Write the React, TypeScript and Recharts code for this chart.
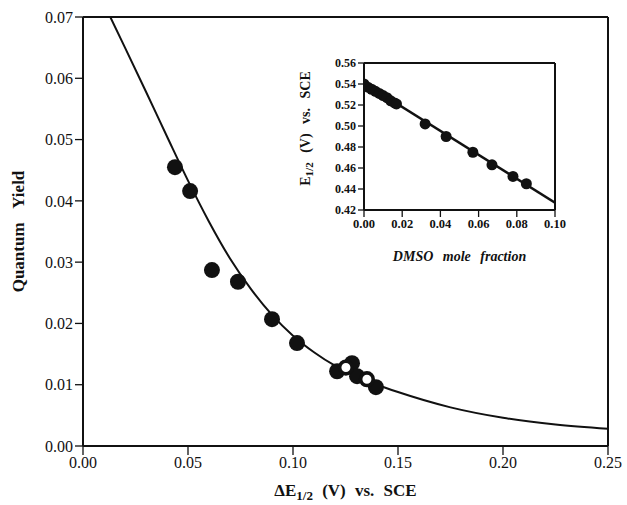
import {
  ComposedChart,
  Line,
  Scatter,
  XAxis,
  YAxis,
  ReferenceLine,
  Label,
} from "recharts";

// main panel: quantum yield vs delta E1/2
const mainFilled = [
  { x: 0.0438, y: 0.0455 },
  { x: 0.051, y: 0.0416 },
  { x: 0.0614, y: 0.0287 },
  { x: 0.0738, y: 0.0268 },
  { x: 0.09, y: 0.0207 },
  { x: 0.1019, y: 0.0168 },
  { x: 0.121, y: 0.0122 },
  { x: 0.1281, y: 0.0135 },
  { x: 0.1305, y: 0.0114 },
  { x: 0.1395, y: 0.0096 },
];
const mainOpen = [
  { x: 0.1252, y: 0.0128 },
  { x: 0.1352, y: 0.0109 },
];
const fitCurve = [
  { x: 0.013, y: 0.07 },
  { x: 0.02, y: 0.065 },
  { x: 0.03, y: 0.0578 },
  { x: 0.04, y: 0.0505 },
  { x: 0.05, y: 0.0433 },
  { x: 0.06, y: 0.0366 },
  { x: 0.07, y: 0.0306 },
  { x: 0.08, y: 0.0256 },
  { x: 0.09, y: 0.0214 },
  { x: 0.1, y: 0.018 },
  { x: 0.11, y: 0.0153 },
  { x: 0.12, y: 0.0131 },
  { x: 0.13, y: 0.0114 },
  { x: 0.14, y: 0.01 },
  { x: 0.15, y: 0.0088 },
  { x: 0.175, y: 0.0063 },
  { x: 0.2, y: 0.0046 },
  { x: 0.225, y: 0.0035 },
  { x: 0.25, y: 0.0028 },
];
const mainXTicks = [0, 0.05, 0.1, 0.15, 0.2, 0.25];
const mainYTicks = [0, 0.01, 0.02, 0.03, 0.04, 0.05, 0.06, 0.07];

// inset: E1/2 vs DMSO mole fraction
const insetPoints = [
  { x: 0, y: 0.54 },
  { x: 0.002, y: 0.537 },
  { x: 0.004, y: 0.535 },
  { x: 0.006, y: 0.533 },
  { x: 0.008, y: 0.531 },
  { x: 0.01, y: 0.529 },
  { x: 0.012, y: 0.527 },
  { x: 0.014, y: 0.524 },
  { x: 0.016, y: 0.522 },
  { x: 0.017, y: 0.521 },
  { x: 0.032, y: 0.502 },
  { x: 0.043, y: 0.49 },
  { x: 0.057, y: 0.475 },
  { x: 0.067, y: 0.463 },
  { x: 0.078, y: 0.452 },
  { x: 0.085, y: 0.445 },
];
const insetFit = [
  { x: 0, y: 0.541 },
  { x: 0.1, y: 0.427 },
];
const insetXTicks = [0, 0.02, 0.04, 0.06, 0.08, 0.1];
const insetYTicks = [0.42, 0.44, 0.46, 0.48, 0.5, 0.52, 0.54, 0.56];

const serif = "Liberation Serif, Times New Roman, serif";
const ink = "#111";

const dot = (r: number) => (p: any) =>
  <circle cx={p.cx} cy={p.cy} r={r} fill={ink} />;
const ring = (p: any) => (
  <circle cx={p.cx} cy={p.cy} r={6.3} fill="#fff" stroke={ink} strokeWidth={3.6} />
);

const MainXTitle = (props: any) => {
  const vb = props.viewBox;
  return (
    <text x={vb.x + vb.width / 2} y={vb.y + 50} textAnchor="middle" fontFamily={serif}
      fontWeight="bold" fontSize={17} fill={ink} wordSpacing={5}>
      ΔE<tspan dy={4} fontSize={13}>1/2</tspan>
      <tspan dy={-4}> (V) vs. SCE</tspan>
    </text>
  );
};

const MainYTitle = (props: any) => {
  const vb = props.viewBox;
  const cy = vb.y + vb.height / 2;
  return (
    <text x={24} y={cy} transform={`rotate(-90 24 ${cy})`} textAnchor="middle"
      fontFamily={serif} fontWeight="bold" fontSize={17} fill={ink} wordSpacing={10}>
      Quantum Yield
    </text>
  );
};

const InsetXTitle = (props: any) => {
  const vb = props.viewBox;
  return (
    <text x={vb.x + vb.width / 2} y={vb.y + 51} textAnchor="middle" fontFamily={serif}
      fontWeight="bold" fontStyle="italic" fontSize={14} fill={ink} wordSpacing={6}>
      DMSO mole fraction
    </text>
  );
};

const InsetYTitle = (props: any) => {
  const vb = props.viewBox;
  const cy = vb.y + vb.height / 2 - 8;
  return (
    <text x={20} y={cy} transform={`rotate(-90 20 ${cy})`} textAnchor="middle"
      fontFamily={serif} fontWeight="bold" fontSize={14} fill={ink} wordSpacing={6}>
      E<tspan dy={3} fontSize={11}>1/2</tspan>
      <tspan dy={-3}> (V) vs. SCE</tspan>
    </text>
  );
};

export default function App() {
  return (
    <div style={{ position: "absolute", left: 0, top: 0, width: 627, height: 505, background: "#fff" }}>
      <ComposedChart width={627} height={505} margin={{ top: 17, right: 19, bottom: 0, left: 0 }}>
        <XAxis type="number" dataKey="x" domain={[0, 0.25]} ticks={mainXTicks} allowDataOverflow
          interval={0} tickFormatter={(v: number) => v.toFixed(2)} height={59} tickSize={9}
          axisLine={{ stroke: ink, strokeWidth: 2 }} tickLine={{ stroke: ink, strokeWidth: 1.3 }}
          tick={{ fill: ink, fontSize: 16, fontFamily: serif }}>
          <Label content={MainXTitle} />
        </XAxis>
        <YAxis type="number" dataKey="y" domain={[0, 0.07]} ticks={mainYTicks} allowDataOverflow
          interval={0} tickFormatter={(v: number) => v.toFixed(2)} width={83} tickSize={8}
          axisLine={{ stroke: ink, strokeWidth: 2 }} tickLine={{ stroke: ink, strokeWidth: 1.3 }}
          tick={{ fill: ink, fontSize: 16, fontFamily: serif }}>
          <Label content={MainYTitle} />
        </YAxis>
        <ReferenceLine y={0.07} stroke={ink} strokeWidth={2} />
        <ReferenceLine x={0.25} stroke={ink} strokeWidth={2} />
        <Line data={fitCurve} dataKey="y" type="monotone" stroke={ink} strokeWidth={2}
          dot={false} isAnimationActive={false} />
        <Scatter data={mainFilled} dataKey="y" shape={dot(8)} isAnimationActive={false} />
        <Scatter data={mainOpen} dataKey="y" shape={ring} isAnimationActive={false} />
      </ComposedChart>

      <div style={{ position: "absolute", left: 290, top: 40 }}>
        <ComposedChart width={290} height={235} margin={{ top: 23, right: 25, bottom: 0, left: 0 }}>
          <XAxis type="number" dataKey="x" domain={[0, 0.1]} ticks={insetXTicks} allowDataOverflow
            interval={0} tickFormatter={(v: number) => v.toFixed(2)} height={65} tickSize={7}
            axisLine={{ stroke: ink, strokeWidth: 2 }} tickLine={{ stroke: ink, strokeWidth: 1.3 }}
            tick={{ fill: ink, fontSize: 12.5, fontFamily: serif, fontWeight: "bold" }}>
            <Label content={InsetXTitle} />
          </XAxis>
          <YAxis type="number" dataKey="y" domain={[0.42, 0.56]} ticks={insetYTicks} allowDataOverflow
            interval={0} minTickGap={0} tickFormatter={(v: number) => v.toFixed(2)} width={74} tickSize={6}
            axisLine={{ stroke: ink, strokeWidth: 2 }} tickLine={{ stroke: ink, strokeWidth: 1.3 }}
            tick={{ fill: ink, fontSize: 12, fontFamily: serif, fontWeight: "bold" }}>
            <Label content={InsetYTitle} />
          </YAxis>
          <ReferenceLine y={0.56} stroke={ink} strokeWidth={2} />
          <ReferenceLine x={0.1} stroke={ink} strokeWidth={2} />
          <Line data={insetFit} dataKey="y" type="linear" stroke={ink} strokeWidth={2.5}
            dot={false} isAnimationActive={false} />
          <Scatter data={insetPoints} dataKey="y" shape={dot(5.5)} isAnimationActive={false} />
        </ComposedChart>
      </div>
    </div>
  );
}
